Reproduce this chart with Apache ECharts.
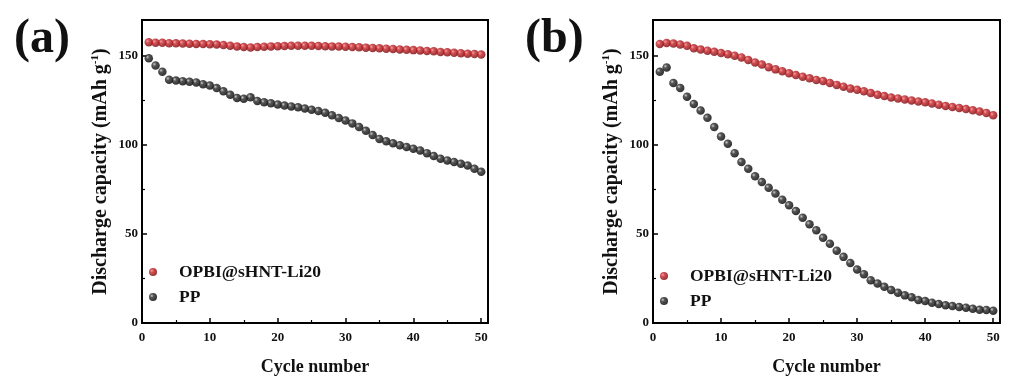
<!DOCTYPE html>
<html>
<head>
<meta charset="utf-8">
<style>
html,body{margin:0;padding:0;background:#fff;}
#chart{width:1026px;height:386px;}
</style>
<script src="https://cdn.jsdelivr.net/npm/echarts@6/dist/echarts.min.js"></script>
</head>
<body>
<div id="chart"></div>
<script>
const cycles = Array.from({length: 50}, (_, i) => i + 1);

const opbiA = [157.5,157.3,157.2,157.0,156.9,156.8,156.7,156.6,156.5,156.4,
  156.3,156.0,155.6,155.2,154.9,154.6,154.8,155.0,155.2,155.3,
  155.4,155.5,155.5,155.5,155.5,155.4,155.3,155.2,155.1,155.0,
  154.8,154.7,154.5,154.3,154.1,153.9,153.7,153.5,153.3,153.1,
  152.9,152.6,152.4,152.1,151.9,151.6,151.4,151.1,150.9,150.6];
const ppA = [148.5,144.5,141.0,136.5,136.0,135.7,135.3,135.0,134.0,133.2,
  131.8,130.0,128.0,126.3,125.8,126.6,124.6,123.8,123.3,122.6,
  122.0,121.5,121.0,120.3,119.6,118.9,118.0,116.5,115.0,113.6,
  112.0,110.0,107.8,105.5,103.3,102.0,100.8,99.7,98.7,97.8,
  96.8,95.3,93.7,92.2,91.2,90.3,89.3,88.4,86.5,84.8];
const opbiB = [156.5,157.1,156.8,156.3,155.5,154.1,153.4,152.8,152.2,151.5,
  150.8,150.0,149.0,147.6,146.2,145.0,143.5,142.3,141.2,140.1,
  139.1,138.2,137.3,136.4,135.8,134.7,133.6,132.6,131.5,130.8,
  130.0,129.0,128.0,127.3,126.5,126.0,125.4,124.9,124.3,123.8,
  123.2,122.5,121.8,121.2,120.6,120.0,119.3,118.6,117.8,116.5];
const ppB = [141.0,143.4,134.7,131.9,127.0,122.9,119.2,115.1,109.9,104.6,
  100.6,95.3,90.3,86.6,82.3,79.1,75.9,72.6,69.2,66.0,
  62.8,59.1,55.4,52.0,47.8,44.4,40.6,37.1,33.7,30.0,
  27.4,24.0,22.2,20.3,18.5,17.0,15.5,14.4,12.9,12.3,
  11.4,10.6,9.9,9.5,9.0,8.6,8.0,7.4,7.3,6.9];

const seriesNames = ['OPBI@sHNT-Li20', 'PP'];
const panelLabels = ['(a)', '(b)'];
const xName = 'Cycle number';

const FONT = "'Liberation Serif', 'Times New Roman', serif";

const redFill = {type:'radial', x:0.35, y:0.35, r:0.65, colorStops:[
  {offset:0, color:'#ef8a8a'},{offset:0.35, color:'#c8242a'},{offset:1, color:'#7a0508'}]};
const blackFill = {type:'radial', x:0.35, y:0.35, r:0.65, colorStops:[
  {offset:0, color:'#bdbdbd'},{offset:0.35, color:'#2a2a2a'},{offset:1, color:'#000'}]};

function pts(arr){ return arr.map((v,i)=>[cycles[i], v]); }

const grids = [
  {left:142, top:20, width:346, height:303, show:true, borderColor:'#000', borderWidth:2, backgroundColor:'transparent'},
  {left:653, top:20, width:347, height:303, show:true, borderColor:'#000', borderWidth:2, backgroundColor:'transparent'}
];

function xAxis(idx){
  return {
    type:'value', gridIndex:idx, min:0, max:51, interval:10,
    name:xName, nameLocation:'middle', nameGap:35,
    nameTextStyle:{fontFamily:FONT, fontWeight:'bold', fontSize:18, color:'#111'},
    axisLine:{show:true, onZero:false, lineStyle:{color:'#000', width:2}},
    axisTick:{show:true, inside:true, length:5, lineStyle:{color:'#000', width:1.5}},
    minorTick:{show:true, splitNumber:2, length:3, lineStyle:{color:'#000', width:1.2}},
    axisLabel:{fontFamily:FONT, fontWeight:'bold', fontSize:13, color:'#111', margin:8, showMaxLabel:false},
    splitLine:{show:false}
  };
}
function yAxis(idx){
  return {
    type:'value', gridIndex:idx, min:0, max:170, interval:50,
    name:'{n|Discharge capacity (mAh g}{s|-1}{n|)}', nameLocation:'middle', nameGap:31, nameRotate:90,
    nameTextStyle:{rich:{
      n:{fontFamily:FONT, fontWeight:'bold', fontSize:20, color:'#111'},
      s:{fontFamily:FONT, fontWeight:'bold', fontSize:11, color:'#111', verticalAlign:'top', padding:[0,0,10,0]}
    }},
    axisLine:{show:true, onZero:false, lineStyle:{color:'#000', width:2}},
    axisTick:{show:true, inside:true, length:5, lineStyle:{color:'#000', width:1.5}},
    minorTick:{show:true, splitNumber:2, length:3, lineStyle:{color:'#000', width:1.2}},
    axisLabel:{fontFamily:FONT, fontWeight:'bold', fontSize:13, color:'#111', margin:4, showMaxLabel:false},
    splitLine:{show:false}
  };
}

function scatter(name, data, idx, fill){
  return {
    name:name, type:'scatter', xAxisIndex:idx, yAxisIndex:idx,
    data:pts(data), symbol:'circle', symbolSize:8.5,
    itemStyle:{color:fill}, z:3
  };
}

function legend(idx, left, top){
  return {
    seriesIndex: idx === 0 ? [0,1] : [2,3],
    data: seriesNames.map((n,i)=>({name:n, icon:'circle', itemStyle:{color: i===0 ? redFill : blackFill}})),
    orient:'vertical', left:left, top:top,
    itemWidth:26, itemHeight:8, itemGap:5,
    textStyle:{fontFamily:FONT, fontWeight:'bold', fontSize:17.5, color:'#111', padding:[0,0,0,8], lineHeight:20},
    selectedMode:false
  };
}

const chart = echarts.init(document.getElementById('chart'), null, {renderer:'canvas'});
chart.setOption({
  backgroundColor:'#fff',
  animation:false,
  title:[
    {text:panelLabels[0], left:9, top:11, textStyle:{fontFamily:FONT, fontWeight:'bold', fontSize:48, color:'#111'}},
    {text:panelLabels[1], left:520, top:11, textStyle:{fontFamily:FONT, fontWeight:'bold', fontSize:48, color:'#111'}}
  ],
  grid:grids,
  xAxis:[xAxis(0), xAxis(1)],
  yAxis:[yAxis(0), yAxis(1)],
  legend:[legend(0, 144, 257), legend(1, 655, 261)],
  series:[
    scatter(seriesNames[0], opbiA, 0, redFill),
    scatter(seriesNames[1], ppA, 0, blackFill),
    scatter(seriesNames[0], opbiB, 1, redFill),
    scatter(seriesNames[1], ppB, 1, blackFill)
  ]
});
</script>
</body>
</html>
